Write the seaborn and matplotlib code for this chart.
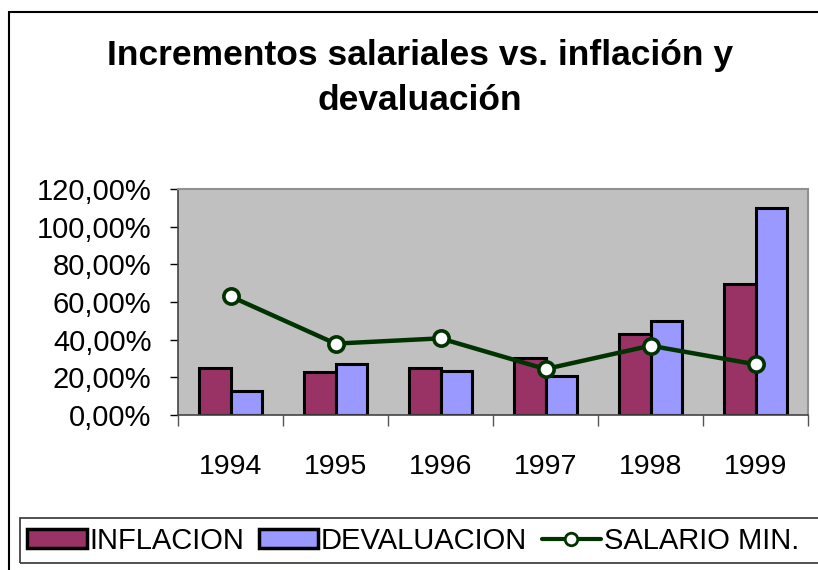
import numpy as np
import pandas as pd
import matplotlib
matplotlib.use('Agg')
import matplotlib.pyplot as plt
import seaborn as sns
from matplotlib.patches import Patch, Rectangle
from matplotlib.lines import Line2D
from matplotlib.ticker import FuncFormatter, MultipleLocator

# Datos (porcentajes)
anios = ['1994', '1995', '1996', '1997', '1998', '1999']
inflacion = [24.8, 22.7, 24.8, 30.1, 42.8, 69.4]
devaluacion = [12.9, 26.9, 23.4, 20.9, 49.9, 110.1]
salario_min = [63.0, 37.9, 40.7, 24.4, 36.8, 26.9]

series = ['INFLACION', 'DEVALUACION']
colores = ['#993366', '#9999FF']
color_linea = '#003300'

df = pd.DataFrame({
    'Año': anios * 2,
    'Valor': inflacion + devaluacion,
    'Serie': [series[0]] * len(anios) + [series[1]] * len(anios),
})

sns.set_theme(style='white')
plt.rcParams['font.family'] = ['Liberation Sans', 'DejaVu Sans']

W, H = 818, 570
fig = plt.figure(figsize=(W / 100, H / 100), dpi=100)

# marco del gráfico
fig.add_artist(Rectangle((9 / W, -0.1), 1.2, 1.1 - 12 / H, transform=fig.transFigure,
                         fill=False, edgecolor='black', linewidth=1.5))

ax = fig.add_axes([178 / W, 1 - 415 / H, 630 / W, 226 / H])
ax.set_facecolor('#C0C0C0')

sns.barplot(data=df, x='Año', y='Valor', hue='Serie', palette=colores,
            width=0.6, gap=0, edgecolor='black', linewidth=2.2,
            saturation=1, legend=False, ax=ax)

# Línea del salario mínimo
ax.plot(np.arange(len(anios)), salario_min, color=color_linea, linewidth=3.2,
        marker='o', markersize=11, markerfacecolor='white',
        markeredgecolor=color_linea, markeredgewidth=2.6, zorder=5)

ax.set_ylim(0, 120)
ax.set_xlim(-0.5, len(anios) - 0.5)
ax.yaxis.set_major_locator(MultipleLocator(20))
ax.yaxis.set_major_formatter(FuncFormatter(lambda v, p: f'{v:.2f}%'.replace('.', ',')))
ax.set_xlabel('')
ax.set_ylabel('')

ax.set_xticks(np.arange(len(anios)))
ax.set_xticklabels(anios)
ax.set_xticks(np.arange(len(anios) + 1) - 0.5, minor=True)
ax.tick_params(axis='x', which='major', length=0, pad=28, labelsize=20.5, colors='black')
ax.tick_params(axis='x', which='minor', length=8, width=1, direction='out',
               color='#555555', bottom=True)
ax.tick_params(axis='y', length=6, width=1, direction='out', pad=13,
               labelsize=21, colors='black', left=True)

for lado in ['left', 'bottom']:
    ax.spines[lado].set_color('#444444')
    ax.spines[lado].set_linewidth(1.2)
for lado in ['top', 'right']:
    ax.spines[lado].set_color('#909090')
    ax.spines[lado].set_linewidth(1.5)

fig.text(0.513, 1 - 78 / H, 'Incrementos salariales vs. inflación y\ndevaluación',
         ha='center', va='center', fontsize=25.5, fontweight='bold',
         color='black', linespacing=1.45)

# leyenda
fig.add_artist(Rectangle((20 / W, 7 / H), 1.0, 45 / H, transform=fig.transFigure,
                         fill=False, edgecolor='#333333', linewidth=1.2))
handles = [
    Patch(facecolor=colores[0], edgecolor='black', linewidth=2.5),
    Patch(facecolor=colores[1], edgecolor='black', linewidth=2.5),
    Line2D([0], [0], color=color_linea, linewidth=3, marker='o', markersize=9,
           markerfacecolor='white', markeredgecolor=color_linea, markeredgewidth=2),
]
leg = fig.legend(handles, series + ['SALARIO MIN.'], loc='center left',
                 bbox_to_anchor=(27 / W, 1 - 541 / H), ncol=3, fontsize=21,
                 frameon=False, labelcolor='black',
                 handlelength=2.05, handleheight=0.65, handletextpad=0.08,
                 columnspacing=0.5, borderpad=0.0, borderaxespad=0.0)

fig.savefig('out.png', dpi=100)
